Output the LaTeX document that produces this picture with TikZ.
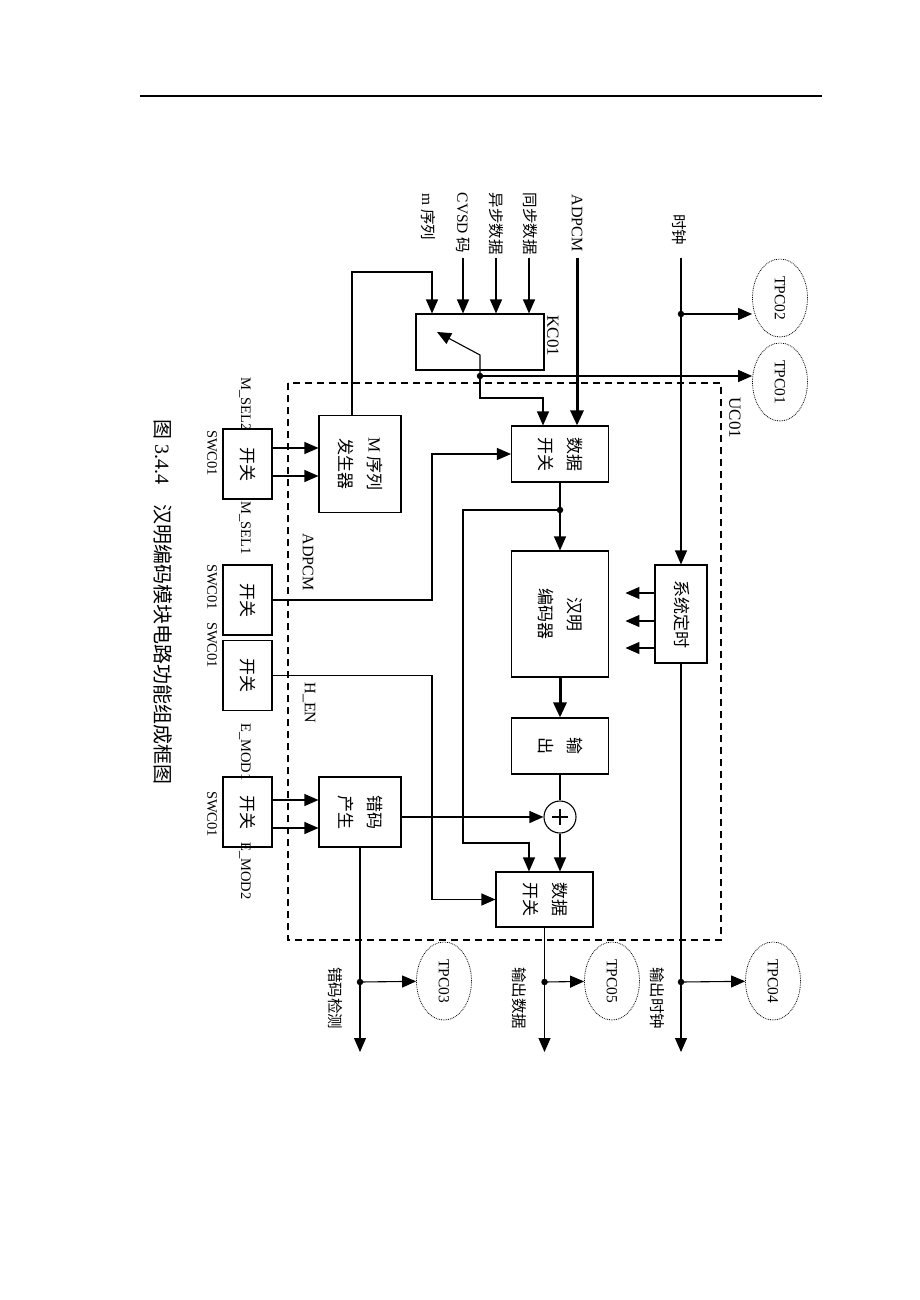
\documentclass[tikz,border=0pt]{standalone}
\usepackage{fontspec}
\usepackage{graphicx}
\setmainfont{Liberation Serif}
\newfontfamily\cjk{Noto Sans CJK SC}
\usetikzlibrary{positioning, arrows.meta, calc, shapes.geometric}
\newcommand\vt[1]{\rotatebox{-90}{\begin{tabular}{@{}c@{}}#1\end{tabular}}}

\begin{document}
\begin{tikzpicture}[
    x=1pt, y=-1pt,
    line width=1.1pt,
    box/.style={draw, fill=white, inner sep=0pt, font=\cjk\fontsize{17pt}{29pt}\selectfont},
    lbl/.style={rotate=-90, inner sep=0pt, font=\fontsize{14.5pt}{16pt}\selectfont},
    zhlbl/.style={rotate=-90, inner sep=0pt, font=\cjk\fontsize{15.5pt}{17pt}\selectfont},
    tp/.style={ellipse, draw, densely dotted, line width=0.8pt, minimum width=55pt, minimum height=78pt, inner sep=0pt, font=\fontsize{15.5pt}{17pt}\selectfont},
    dot/.style={circle, fill, inner sep=0pt, minimum size=6.5pt},
    arr/.style={-{Triangle[length=14pt, width=12pt]}},
    fatarr/.style={-{Triangle[length=15pt, width=13pt]}}
]{
    \useasboundingbox (0,0) rectangle (920,1300);
    \draw[line width=1.2pt] (140,96) -- (822,96);

    % UC01
    \draw[dashed, dash pattern=on 7pt off 5pt] (288,383) rectangle (721,940);
    \node[lbl, font=\fontsize{17pt}{19pt}\selectfont] (l_uc01) at (735,418) {UC01};

    % inputs
    \node[zhlbl] (l_mseq) at (428,217) {{\rmfamily m} 序列};
    \node[zhlbl] (l_cvsd) at (463,223) {{\rmfamily CVSD} 码};
    \node[zhlbl] (l_async) at (496,224) {异步数据};
    \node[zhlbl] (l_sync) at (530,224) {同步数据};
    \node[lbl, font=\fontsize{16pt}{18pt}\selectfont] (l_adpcm) at (577,223) {ADPCM};
    \node[zhlbl] (l_clk) at (679,230) {时钟};
    \coordinate (cvsd_in) at (463,258);
    \coordinate (async_in) at (496,258);
    \coordinate (sync_in) at (529,258);
    \coordinate (adpcm_in) at (577,258);
    \coordinate (clk_in) at (681,258);
    \coordinate (ms_corner) at (432,272);

    \node[box, minimum width=128pt, minimum height=56pt] (kc01) at (480,342) {};
    \node[lbl, font=\fontsize{17pt}{19pt}\selectfont] (l_kc01) at (553,336) {KC01};
    \node[box, minimum width=97pt, minimum height=56pt] (dsw1) at (560,454) {\vt{数据\\开关}};
    \node[box, minimum width=97pt, minimum height=126pt] (hamming) at (560,614) {\vt{汉明\\编码器}};
    \node[box, minimum width=97pt, minimum height=56pt] (outbox) at (560,746) {\vt{输\\出}};
    \node[circle, draw, minimum size=32pt, inner sep=0pt] (sum) at (560,817) {};
    \draw[line width=2.6pt] ($(sum)+(-8,0)$) -- ($(sum)+(8,0)$) ($(sum)+(0,-8)$) -- ($(sum)+(0,8)$);
    \node[box, minimum width=97pt, minimum height=55pt] (dsw2) at (544.5,899.5) {\vt{数据\\开关}};
    \node[box, minimum width=52pt, minimum height=98pt] (timer) at (681,614) {\vt{系统定时}};

    \node[box, minimum width=82pt, minimum height=97pt] (mseq) at (360,464) {\vt{{\rmfamily M} 序列\\发生器}};
    \node[box, minimum width=82pt, minimum height=70pt] (errgen) at (360,812) {\vt{错码\\产生}};

    % switches
    \node[box, minimum width=49pt, minimum height=70pt] (sw1) at (247.5,464) {\vt{开关}};
    \node[box, minimum width=49pt, minimum height=70pt] (sw2) at (247.5,600) {\vt{开关}};
    \node[box, minimum width=49pt, minimum height=70pt] (sw3) at (247.5,675.5) {\vt{开关}};
    \node[box, minimum width=49pt, minimum height=70pt] (sw4) at (247.5,812) {\vt{开关}};
    \node[lbl] (l_swc1) at (212,453) {SWC01};
    \node[lbl] (l_swc2) at (212,587) {SWC01};
    \node[lbl] (l_swc3) at (212,645) {SWC01};
    \node[lbl] (l_swc4) at (212,814) {SWC01};
    \node[lbl] (l_msel2) at (245,404) {M\_SEL2};
    \node[lbl] (l_msel1) at (245,528) {M\_SEL1};
    \node[lbl] (l_emod1) at (245,752) {E\_MOD1};
    \node[lbl] (l_emod2) at (245,871) {E\_MOD2};
    \node[lbl, font=\fontsize{16pt}{18pt}\selectfont] (l_adpcm2) at (308,562) {ADPCM};
    \node[lbl, font=\fontsize{16pt}{18pt}\selectfont] (l_hen) at (309,703) {H\_EN};
    \coordinate (sel_col) at (432,0);

    % test points
    \node[tp] (tpc02) at (780,298) {\rotatebox{-90}{TPC02}};
    \node[tp] (tpc01) at (780,382) {\rotatebox{-90}{TPC01}};
    \node[tp] (tpc03) at (444,981) {\rotatebox{-90}{TPC03}};
    \node[tp] (tpc05) at (612,981) {\rotatebox{-90}{TPC05}};
    \node[tp] (tpc04) at (773,981) {\rotatebox{-90}{TPC04}};

    % outputs
    \coordinate (err_end) at (360,1052);
    \coordinate (dat_end) at (544.5,1052);
    \coordinate (clk_end) at (681,1052);
    \node[dot] (err_dot) at (360,982) {};
    \node[dot] (dat_dot) at (544.5,982) {};
    \node[dot] (clko_dot) at (681,982) {};
    \node[zhlbl] (l_errdet) at (335,998) {错码检测};
    \node[zhlbl] (l_datout) at (519,998) {输出数据};
    \node[zhlbl] (l_clkout) at (657,998) {输出时钟};

    \draw[arr] (cvsd_in) -- (cvsd_in |- kc01.north);
    \draw[arr] (async_in) -- (async_in |- kc01.north);
    \draw[arr] (sync_in) -- (sync_in |- kc01.north);
    \draw[arr] ([xshift=-8pt]mseq.north) |- (ms_corner) -- (ms_corner |- kc01.north);
    \draw[fatarr, line width=3pt] (adpcm_in) -- (adpcm_in |- dsw1.north);

    \node[dot] (kc_dot) at (480,376) {};
    \coordinate (kc_pole) at (480,355);
    \coordinate (kc_tip) at (437,332);
    \coordinate (kc_bend) at (543,398);
    \draw[arr] (kc_dot.center) -- (kc_pole) -- (kc_tip);
    \draw[arr] (kc_dot.center) -- (tpc01.west |- kc_dot);
    \draw[arr] (kc_dot.center) |- (kc_bend) -- (kc_bend |- dsw1.north);

    \node[dot] (clk_dot) at (681,314) {};
    \draw[arr] (clk_in) -- (clk_in |- timer.north);
    \draw[arr] (clk_dot.center) -- (tpc02.west |- clk_dot);
    \foreach \dy in {-21,7,34}
        \draw[arr] ($(timer.west)+(0,\dy)$) -- ++(-29,0);

    \node[dot] (d1_dot) at (560,510) {};
    \coordinate (byp) at (463,843);
    \draw[arr] (dsw1) -- (hamming);
    \draw[arr] (d1_dot.center) -| (byp) -| ([xshift=-15.5pt]dsw2.north);
    \draw[fatarr, line width=3pt] (hamming) -- (outbox);
    \draw (outbox) -- (sum);
    \draw[arr] (sum) -- (sum |- dsw2.north);
    \draw[arr] (errgen.east |- sum) -- (sum);

    \foreach \dy in {-16,12}
        \draw[arr] ($(sw1.east)+(0,\dy)$) -- ($(mseq.west)+(0,\dy)$);
    \foreach \dy in {-12,16}
        \draw[arr] ($(sw4.east)+(0,\dy)$) -- ($(errgen.west)+(0,\dy)$);
    \draw[arr] (sw2.east) -- (sw2.east -| sel_col) |- (dsw1.west);
    \draw[arr] (sw3.east) -- (sw3.east -| sel_col) |- (dsw2.west);

    \draw[arr] (errgen) -- (err_end);
    \draw[arr] (dsw2) -- (dat_end);
    \draw[arr] (timer) -- (clk_end);
    \draw[arr] (err_dot.center) -- (tpc03);
    \draw[arr] (dat_dot.center) -- (tpc05);
    \draw[arr] (clko_dot.center) -- (tpc04);

    \node[rotate=-90, font=\fontsize{20pt}{22pt}\selectfont] (caption) at (163,602) {{\cjk 图} 3.4.4\hspace{1em}{\cjk 汉明编码模块电路功能组成框图}};
}
\end{tikzpicture}
\end{document}
